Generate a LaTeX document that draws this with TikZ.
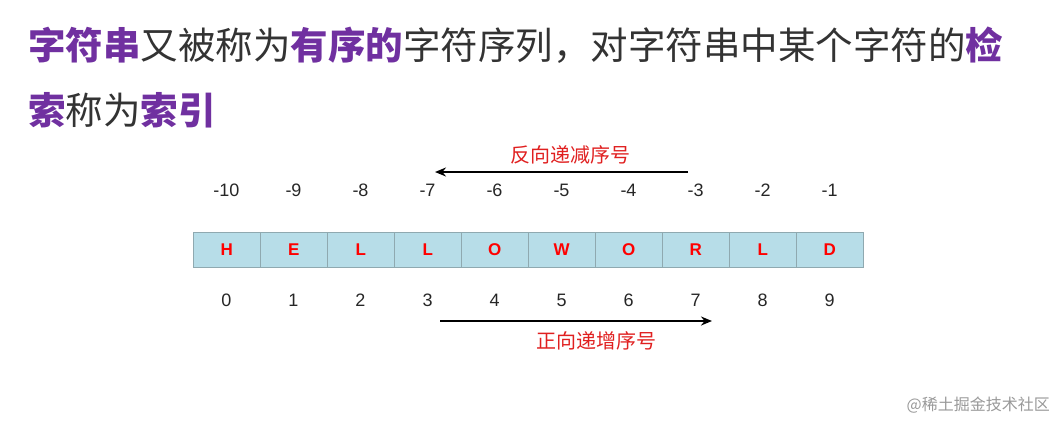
\documentclass[tikz,border=0pt]{standalone}
\usepackage{fontspec}
\setmainfont{Liberation Sans}
\newfontfamily\cjk{Noto Sans CJK SC}
\usetikzlibrary{arrows.meta}
\definecolor{pur}{HTML}{7030A0}
\definecolor{cellfill}{HTML}{B7DDE8}
\definecolor{cellline}{HTML}{8FA9B0}
\definecolor{lab}{HTML}{E02020}
\begin{document}
\begin{tikzpicture}[x=1pt,y=-1pt,
  cell/.style={draw=cellline,fill=cellfill,minimum width=67pt,minimum height=35pt,inner sep=0pt,anchor=north west,font=\fontsize{17}{17}\selectfont\bfseries,text=red},
  idx/.style={font=\fontsize{18}{18}\selectfont,text=black!85},
  lbl/.style={font=\cjk\fontsize{20}{20}\selectfont,text=lab},
  arr/.style={line width=2.5pt,-{Stealth[length=11pt,width=9pt]}}]
\useasboundingbox (0,0) rectangle (1057,421);
\node[anchor=west,inner sep=0pt,font=\cjk\fontsize{37.5}{37.5}\selectfont,text=black!80] (t1) at (28,45)
 {\textcolor{pur}{\bfseries 字符串}又被称为\textcolor{pur}{\bfseries 有序的}字符序列，对字符串中某个字符的\textcolor{pur}{\bfseries 检}};
\node[anchor=west,inner sep=0pt,font=\cjk\fontsize{37.5}{37.5}\selectfont,text=black!80] (t2) at (28,110)
 {\textcolor{pur}{\bfseries 索}称为\textcolor{pur}{\bfseries 索引}};
\foreach \ch [count=\i from 0] in {H,E,L,L,O,W,O,R,L,D}{
  \node[cell] (c\i) at ({193+67*\i},232) {\ch};
  \node[idx] (p\i) at ({226.5+67*\i},300) {\i};
  \pgfmathtruncatemacro{\n}{\i-10}
  \node[idx] (n\i) at ({226.5+67*\i},190) {\n};
}
\coordinate (a1) at (688,172);
\coordinate (a2) at (435,172);
\draw[arr] (a1) -- (a2);
\node[lbl] (l1) at (570,155) {反向递减序号};
\coordinate (b1) at (440,321);
\coordinate (b2) at (712,321);
\draw[arr] (b1) -- (b2);
\node[lbl] (l2) at (596,341) {正向递增序号};
\node[anchor=east,inner sep=0pt,font=\cjk\fontsize{16}{16}\selectfont,text=black!40] (wm) at (1050,405) {@稀土掘金技术社区};
\end{tikzpicture}
\end{document}
